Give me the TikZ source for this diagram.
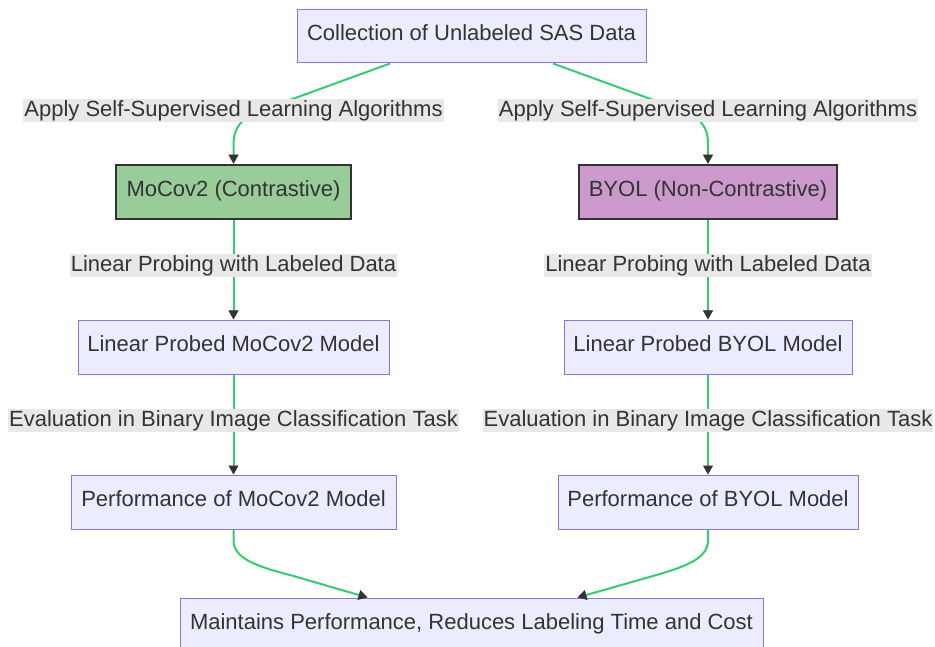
\documentclass[tikz,border=0pt]{standalone}
\usepackage{fontspec}
\setmainfont{Liberation Sans}
\usetikzlibrary{arrows.meta}
\definecolor{boxfill}{HTML}{ECECFF}
\definecolor{boxline}{HTML}{9370DB}
\definecolor{mocofill}{HTML}{99CC99}
\definecolor{byolfill}{HTML}{CC99CC}
\definecolor{darkline}{HTML}{333333}
\definecolor{flowgreen}{HTML}{33CC6E}
\definecolor{labelgray}{HTML}{E8E8E8}
\begin{document}
\begin{tikzpicture}[x=1pt,y=-1pt,
    every node/.style={font=\fontsize{22}{26}\selectfont, text=darkline},
    box/.style={draw=boxline, fill=boxfill, line width=1pt, minimum height=54pt, inner sep=0pt, text height=16pt, text depth=7pt},
    algbox/.style={draw=darkline, line width=2.5pt, minimum height=54pt, inner sep=0pt, text height=16pt, text depth=7pt},
    elabel/.style={fill=labelgray, inner xsep=1pt, inner ysep=0pt, minimum height=23pt},
    flow/.style={draw=flowgreen, line width=2pt, -{Triangle[length=9pt,width=10pt,line width=0.5pt,color=darkline]}}]
                \useasboundingbox (0,0) rectangle (935,647);
                \clip (0,0) rectangle (935,647);
                \node[box, minimum width=349pt, minimum height=53pt] (collect) at (471.5,36.5) {Collection of Unlabeled SAS Data};
                \node[algbox, fill=mocofill, minimum width=235pt] (moco) at (233.5,192) {MoCov2 (Contrastive)};
                \node[algbox, fill=byolfill, minimum width=258pt] (byol) at (708,192) {BYOL (Non-Contrastive)};
                \node[box, minimum width=311pt] (lpmoco) at (233.5,347) {Linear Probed MoCov2 Model};
                \node[box, minimum width=288pt] (lpbyol) at (708,347) {Linear Probed BYOL Model};
                \node[box, minimum width=325pt] (perfmoco) at (233.5,502) {Performance of MoCov2 Model};
                \node[box, minimum width=300pt] (perfbyol) at (708,502) {Performance of BYOL Model};
                \node[box, minimum width=583pt] (result) at (471.5,625) {Maintains Performance, Reduces Labeling Time and Cost};
                \draw[flow] ([xshift=-81.5pt]collect.south) -- (265,109) .. controls (240,118) and (233.5,128) .. (233.5,145) -- (moco.north);
                \draw[flow] ([xshift=81.5pt]collect.south) -- (678,109) .. controls (703,118) and (708,128) .. (708,145) -- (byol.north);
                \node[elabel] (applyl) at (233.5,110.5) {Apply Self-Supervised Learning Algorithms};
                \node[elabel] (applyr) at (708,110.5) {Apply Self-Supervised Learning Algorithms};
                \draw[flow] (moco) -- node[elabel, pos=.46] (probel) {Linear Probing with Labeled Data} (lpmoco);
                \draw[flow] (byol) -- node[elabel, pos=.46] (prober) {Linear Probing with Labeled Data} (lpbyol);
                \draw[flow] (lpmoco) -- node[elabel, pos=.46] (evall) {Evaluation in Binary Image Classification Task} (perfmoco);
                \draw[flow] (lpbyol) -- node[elabel, pos=.46] (evalr) {Evaluation in Binary Image Classification Task} (perfbyol);
                \draw[flow] (perfmoco.south) -- (233.5,540) .. controls (233.5,558) and (255,566) .. (290,575) -- ([xshift=-104pt]result.north);
                \draw[flow] (perfbyol.south) -- (708,540) .. controls (708,558) and (688,566) .. (653,576) -- ([xshift=106pt]result.north);
\end{tikzpicture}
\end{document}
